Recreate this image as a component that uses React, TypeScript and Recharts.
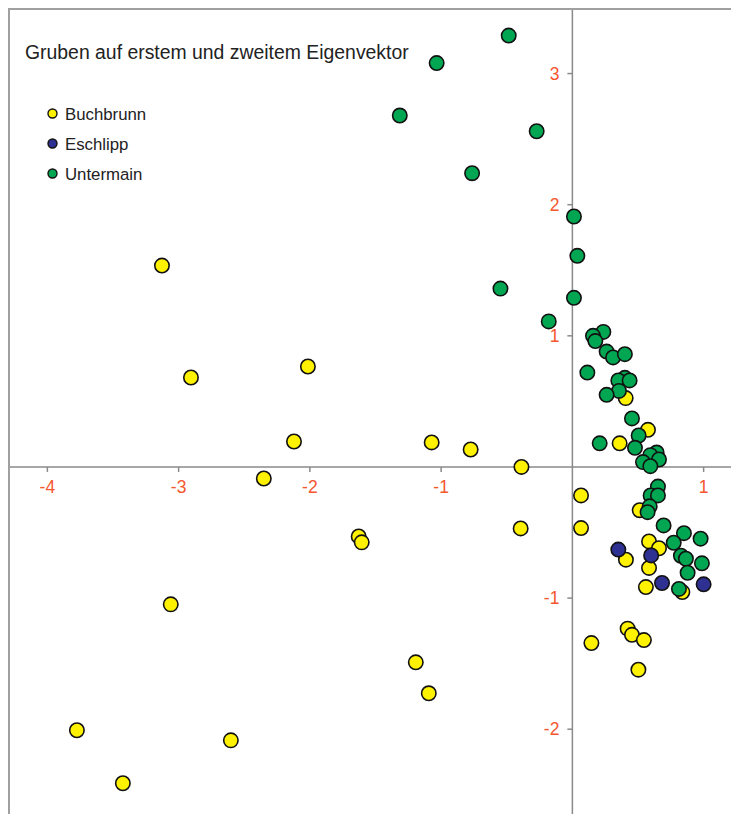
import React from "react";
import { ScatterChart, Scatter, XAxis, YAxis, ReferenceLine, ReferenceDot } from "recharts";

const buchbrunn: [number, number][] = [
  [-3.127, 1.536], [-2.906, 0.682], [-2.015, 0.766], [-2.121, 0.194], [-1.072, 0.187],
  [-0.775, 0.133], [-2.351, -0.088], [-1.628, -0.53], [-1.605, -0.575], [-0.394, -0.469],
  [-0.388, 0.0], [-3.06, -1.048], [-1.193, -1.49], [-1.094, -1.726], [-3.775, -2.008],
  [-2.602, -2.085], [-3.425, -2.412],
  [0.406, 0.525], [0.576, 0.283], [0.36, 0.18], [0.066, -0.217], [0.066, -0.466],
  [0.513, -0.33], [0.584, -0.568], [0.66, -0.62], [0.408, -0.707], [0.584, -0.77],
  [0.56, -0.916], [0.838, -0.954], [0.421, -1.233], [0.454, -1.28], [0.545, -1.32],
  [0.145, -1.343], [0.503, -1.546],
];

const eschlipp: [number, number][] = [
  [0.35, -0.63], [0.6, -0.675], [0.683, -0.885], [1.0, -0.895],
];

const untermain: [number, number][] = [
  [-0.485, 3.29], [-1.034, 3.08], [-1.315, 2.68], [-0.272, 2.56], [-0.764, 2.24],
  [0.012, 1.91], [0.038, 1.61], [-0.548, 1.36], [0.012, 1.29], [-0.18, 1.11],
  [0.236, 1.03], [0.157, 1.0], [0.175, 0.96], [0.261, 0.88], [0.31, 0.835],
  [0.4, 0.86], [0.114, 0.72], [0.4, 0.68], [0.35, 0.66], [0.436, 0.66],
  [0.355, 0.58], [0.261, 0.55], [0.454, 0.37], [0.505, 0.24], [0.208, 0.18],
  [0.477, 0.146], [0.642, 0.11], [0.594, 0.09], [0.66, 0.057], [0.538, 0.037],
  [0.594, 0.006], [0.652, -0.15], [0.596, -0.217], [0.652, -0.217], [0.589, -0.3],
  [0.573, -0.345], [0.695, -0.446], [0.85, -0.505], [0.977, -0.547], [0.772, -0.578],
  [0.827, -0.677], [0.865, -0.7], [0.987, -0.735], [0.878, -0.807], [0.812, -0.93],
];

const xTicks = [-4, -3, -2, -1, 1];
const yTicks = [3, 2, 1, -1, -2];

const seriesNames = ["Buchbrunn", "Eschlipp", "Untermain"];
const seriesColors = ["#fff200", "#2e3192", "#00a651"];

const title = "Gruben auf erstem und zweitem Eigenvektor";
const FONT = "'Liberation Sans', Arial, sans-serif";
const AXIS_COLOR = "#8a8a8a";
const TICK_TEXT = "#f4562d";

const toPoints = (arr: [number, number][]) => arr.map(([x, y]) => ({ x, y }));

const dotShape = (fill: string) => (props: any) => (
  <circle cx={props.cx} cy={props.cy} r={7.2} fill={fill} stroke="#111" strokeWidth={1.6} />
);

const XTickShape = (label: number) => (props: any) => (
  <g>
    <line x1={props.cx} y1={props.cy} x2={props.cx} y2={props.cy + 5} stroke={AXIS_COLOR} strokeWidth={1.5} />
    <text x={props.cx} y={props.cy + 26} textAnchor="middle" fill={TICK_TEXT} fontSize={17.5} fontFamily={FONT}>
      {label}
    </text>
  </g>
);

const YTickShape = (label: number) => (props: any) => (
  <g>
    <line x1={props.cx - 5} y1={props.cy} x2={props.cx} y2={props.cy} stroke={AXIS_COLOR} strokeWidth={1.5} />
    <text x={props.cx - 13} y={props.cy + 6} textAnchor="end" fill={TICK_TEXT} fontSize={17.5} fontFamily={FONT}>
      {label}
    </text>
  </g>
);

export default function App() {
  return (
    <div style={{ position: "relative", width: 731, height: 806, overflow: "hidden", background: "#fff" }}>
      <ScatterChart width={735} height={813} margin={{ top: 0, right: 0, bottom: 0, left: 0 }}>
        <XAxis type="number" dataKey="x" domain={[-4.3, 1.3]} allowDataOverflow hide />
        <YAxis type="number" dataKey="y" domain={[-2.7, 3.5]} allowDataOverflow hide width={0} />
        <ReferenceLine x={0} stroke={AXIS_COLOR} strokeWidth={1.5} />
        <ReferenceLine y={0} stroke={AXIS_COLOR} strokeWidth={1.5} />
        {xTicks.map((t) => (
          <ReferenceDot key={"x" + t} x={t} y={0} r={0} shape={XTickShape(t)} />
        ))}
        {yTicks.map((t) => (
          <ReferenceDot key={"y" + t} x={0} y={t} r={0} shape={YTickShape(t)} />
        ))}
        <Scatter name={seriesNames[0]} data={toPoints(buchbrunn)} fill={seriesColors[0]} shape={dotShape(seriesColors[0])} isAnimationActive={false} />
        <Scatter name={seriesNames[1]} data={toPoints(eschlipp)} fill={seriesColors[1]} shape={dotShape(seriesColors[1])} isAnimationActive={false} />
        <Scatter name={seriesNames[2]} data={toPoints(untermain)} fill={seriesColors[2]} shape={dotShape(seriesColors[2])} isAnimationActive={false} />
        <text x={17} y={51} fontSize={19.4} fontFamily={FONT} fill="#222">
          {title}
        </text>
        <g>
          {seriesNames.map((name, i) => (
            <g key={name}>
              <circle cx={44.5} cy={105.5 + i * 30} r={4.5} fill={seriesColors[i]} stroke="#111" strokeWidth={1.4} />
              <text x={57} y={111.5 + i * 30} fontSize={16.8} fontFamily={FONT} fill="#222">
                {name}
              </text>
            </g>
          ))}
        </g>
      </ScatterChart>
      <div
        style={{
          position: "absolute",
          left: 0,
          top: 0,
          width: 731,
          height: 806,
          borderTop: "2px solid #a0a0a0",
          borderLeft: "2px solid #a0a0a0",
          boxSizing: "border-box",
          pointerEvents: "none",
        }}
      />
    </div>
  );
}
